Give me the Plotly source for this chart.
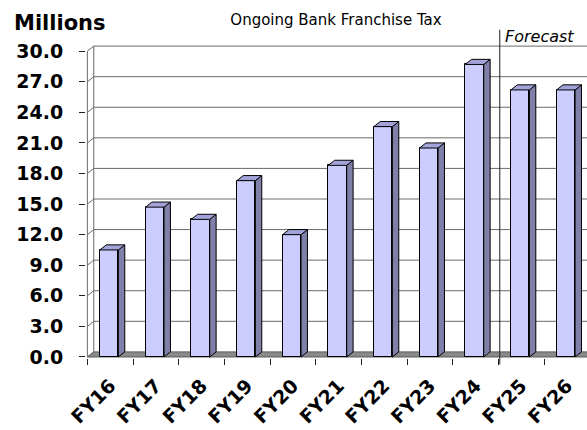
import plotly.graph_objects as go

# Ongoing bank franchise tax, millions of dollars
fiscal_years = ["FY16", "FY17", "FY18", "FY19", "FY20", "FY21",
                "FY22", "FY23", "FY24", "FY25", "FY26"]
revenue = [10.5, 14.7, 13.5, 17.3, 12.0, 18.8, 22.6, 20.5, 28.7, 26.2, 26.2]
forecast_start = "FY25"
y_ticks = [0, 3, 6, 9, 12, 15, 18, 21, 24, 27, 30]
y_tick_labels = [f"{v:.1f}" for v in y_ticks]

# pseudo-3D geometry (axis units)
DX, DY = 0.14, 0.5          # depth offset of the back wall / bar sides
BAR_OFF, BAR_W = -0.226, 0.405
X_MIN, X_MAX = -0.53, 10.44
Y_MIN, Y_MAX = -0.1, 31.0
WALL_X = -0.5

FRONT = "#CCCCFF"
SIDE = "#7F7FAA"
TOP = "#A3A3D9"
GRID = "#6a6a6a"

xs = list(range(len(fiscal_years)))
fig = go.Figure()

shapes = []
# floor
shapes.append(dict(type="path", xref="x", yref="y", layer="below",
                   path=f"M {WALL_X},0 L {X_MAX + 1},0 L {X_MAX + 1},{DY} "
                        f"L {WALL_X + DX},{DY} Z",
                   fillcolor="#8A8A8A", line=dict(color="#5a5a5a", width=1)))
# back-wall gridlines and left-wall connectors
for v in y_ticks:
    if v > 0:
        shapes.append(dict(type="line", xref="x", yref="y", layer="below",
                           x0=WALL_X + DX, x1=X_MAX + 1, y0=v + DY, y1=v + DY,
                           line=dict(color=GRID, width=1)))
    shapes.append(dict(type="line", xref="x", yref="y", layer="below",
                       x0=WALL_X, x1=WALL_X + DX, y0=v, y1=v + DY,
                       line=dict(color=GRID, width=1)))
# left wall edges
shapes.append(dict(type="line", xref="x", yref="y", layer="below",
                   x0=WALL_X, x1=WALL_X, y0=0, y1=y_ticks[-1],
                   line=dict(color=GRID, width=1)))
shapes.append(dict(type="line", xref="x", yref="y", layer="below",
                   x0=WALL_X + DX, x1=WALL_X + DX, y0=DY, y1=y_ticks[-1] + DY,
                   line=dict(color=GRID, width=1)))
# forecast divider
fc = fiscal_years.index(forecast_start) - 0.5 + 0.03
shapes.append(dict(type="line", xref="x", yref="paper",
                   x0=fc, x1=fc, y0=-0.02, y1=1.035,
                   line=dict(color="#202020", width=1)))

# bar front faces
fig.add_trace(go.Bar(x=xs, y=revenue, base=0, width=BAR_W, offset=BAR_OFF,
                     marker=dict(color=FRONT, line=dict(color="black", width=1)),
                     hoverinfo="skip", showlegend=False))

# bar sides and tops
side_x, side_y, top_x, top_y = [], [], [], []
for x, v in zip(xs, revenue):
    x0 = x + BAR_OFF
    x1 = x0 + BAR_W
    side_x += [x1, x1, x1 + DX, x1 + DX, x1, None]
    side_y += [0, v, v + DY, DY, 0, None]
    top_x += [x0, x1, x1 + DX, x0 + DX, x0, None]
    top_y += [v, v, v + DY, v + DY, v, None]
fig.add_trace(go.Scatter(x=side_x, y=side_y, mode="lines", fill="toself",
                         fillcolor=SIDE, line=dict(color="black", width=1),
                         hoverinfo="skip", showlegend=False))
fig.add_trace(go.Scatter(x=top_x, y=top_y, mode="lines", fill="toself",
                         fillcolor=TOP, line=dict(color="black", width=1),
                         hoverinfo="skip", showlegend=False))

annotations = [
    dict(text="Millions", xref="paper", yref="paper", x=-0.148, y=1.058,
         xanchor="left", yanchor="middle", showarrow=False,
         font=dict(family="DejaVu Sans", size=21, color="black", weight="bold")),
    dict(text="<i>Forecast</i>", xref="x", yref="paper", x=fc + 0.08, y=1.013,
         xanchor="left", yanchor="middle", showarrow=False,
         font=dict(family="DejaVu Sans", size=16, color="black")),
]

fig.update_layout(
    width=587, height=430,
    margin=dict(l=86, r=0, t=41, b=72),
    paper_bgcolor="white", plot_bgcolor="white",
    title=dict(text="Ongoing Bank Franchise Tax", x=0.5724, y=0.955,
               xanchor="center", yanchor="middle",
               font=dict(family="DejaVu Sans", size=15, color="black")),
    shapes=shapes, annotations=annotations,
    bargap=0,
    xaxis=dict(range=[X_MIN, X_MAX], tickmode="array", tickvals=xs,
               ticktext=fiscal_years, tickangle=-45, ticks="",
               ticklabelstandoff=12,
               showgrid=False, zeroline=False, showline=False,
               tickfont=dict(family="DejaVu Sans", size=19, color="black",
                             weight="bold"),
               minor=dict(tickmode="linear", tick0=-0.5, dtick=1,
                          ticks="outside", ticklen=6, tickcolor="#202020",
                          showgrid=False)),
    yaxis=dict(range=[Y_MIN, Y_MAX], tickmode="array", tickvals=y_ticks,
               ticktext=y_tick_labels, ticks="outside", ticklen=6,
               ticklabelstandoff=12,
               tickcolor="#202020", showgrid=False, zeroline=False,
               showline=False,
               tickfont=dict(family="DejaVu Sans", size=19, color="black",
                             weight="bold")),
)

fig.write_html("out.html")
